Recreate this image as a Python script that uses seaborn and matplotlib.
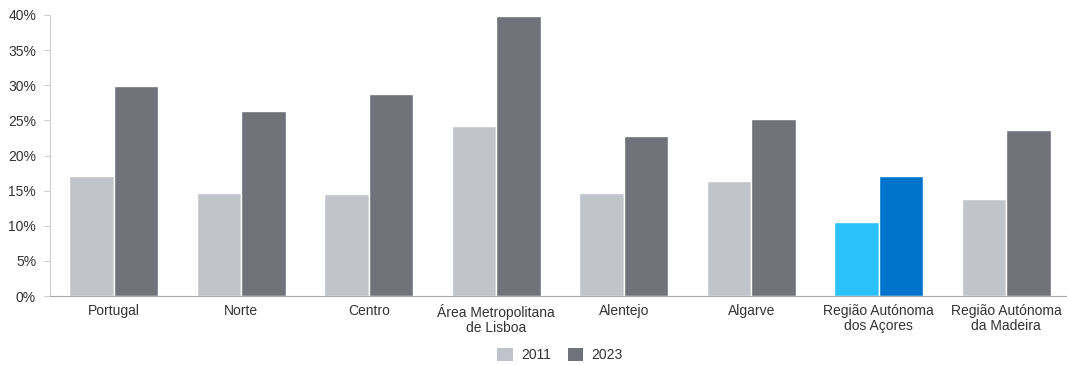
import matplotlib
matplotlib.use("Agg")
import matplotlib.pyplot as plt
import seaborn as sns
import pandas as pd
from matplotlib.patches import Patch
from matplotlib.ticker import FuncFormatter

regions = [
    "Portugal", "Norte", "Centro", "Área Metropolitana\nde Lisboa",
    "Alentejo", "Algarve", "Região Autónoma\ndos Açores", "Região Autónoma\nda Madeira",
]
years = ["2011", "2023"]
share_2011 = [17.1, 14.7, 14.5, 24.2, 14.7, 16.4, 10.5, 13.8]
share_2023 = [29.9, 26.3, 28.8, 39.9, 22.8, 25.2, 17.1, 23.6]

grey_light = "#c0c3cc"
grey_dark = "#6f717b"
blue_light = "#2bc1fa"
blue_dark = "#0074cc"
highlight = "Região Autónoma\ndos Açores"

df = pd.DataFrame({
    "region": regions * 2,
    "year": [years[0]] * len(regions) + [years[1]] * len(regions),
    "value": share_2011 + share_2023,
})

sns.set_theme(style="white")
plt.rcParams["font.family"] = ["Liberation Sans", "DejaVu Sans"]

fig = plt.figure(figsize=(10.67, 3.65), dpi=100)
ax = fig.add_axes([50 / 1067, 1 - 296 / 365, 1020 / 1067, (296 - 15) / 365])

sns.barplot(
    data=df, x="region", y="value", hue="year", order=regions, hue_order=years,
    palette=[grey_light, grey_dark], width=0.7, edgecolor="white", linewidth=1,
    ax=ax, legend=False,
)

# highlight the Azores pair in blue
idx = regions.index(highlight)
ax.containers[0][idx].set_facecolor(blue_light)
ax.containers[1][idx].set_facecolor(blue_dark)

ax.set_xlim(-0.5, 7.5)
ax.set_ylim(0, 40)
ax.set_yticks(range(0, 41, 5))
ax.yaxis.set_major_formatter(FuncFormatter(lambda v, _: f"{v:.0f}%"))
ax.set_xlabel("")
ax.set_ylabel("")

for side in ("top", "right"):
    ax.spines[side].set_visible(False)
ax.spines["left"].set_color("#d0d0d0")
ax.spines["left"].set_linewidth(0.8)
ax.spines["bottom"].set_color("#a6a6a6")
ax.spines["bottom"].set_linewidth(0.8)

ax.tick_params(axis="y", left=True, length=4, width=0.8, color="#d0d0d0",
               labelsize=10, labelcolor="#333333", pad=6)
ax.tick_params(axis="x", bottom=False, labelsize=10, labelcolor="#333333", pad=0)
for lbl in ax.get_xticklabels():
    lbl.set_linespacing(1.05)

handles = [Patch(facecolor=grey_light, edgecolor="none"),
           Patch(facecolor=grey_dark, edgecolor="none")]
fig.legend(handles, years, loc="center", bbox_to_anchor=(560 / 1067, 1 - 355 / 365),
           ncol=2, frameon=False, fontsize=10, handlelength=1.1, handleheight=1.1,
           columnspacing=1.2, handletextpad=0.6, labelcolor="#333333")

fig.savefig("out.png", dpi=100)
